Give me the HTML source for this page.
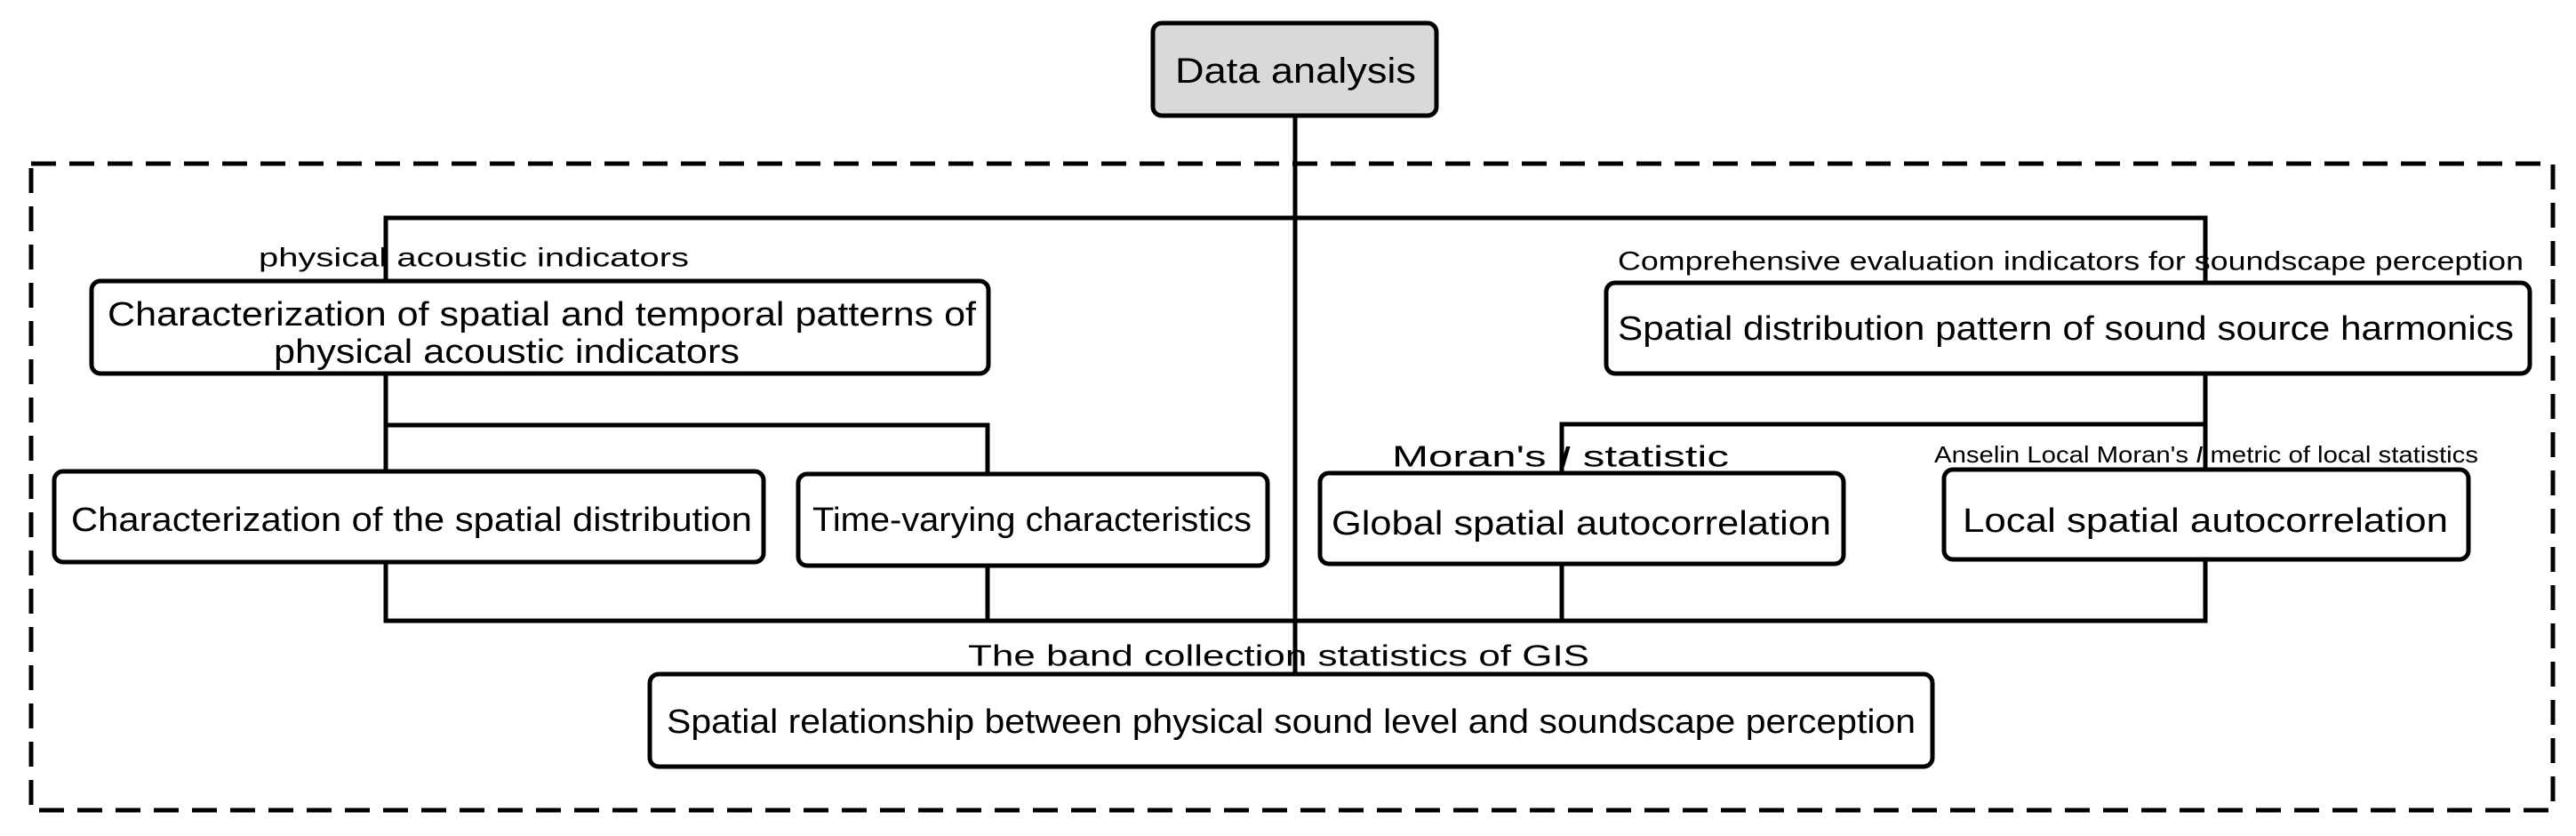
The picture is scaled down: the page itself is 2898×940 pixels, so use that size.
<!DOCTYPE html>
<html><head><meta charset="utf-8"><style>html,body{margin:0;padding:0;background:#fff}svg{display:block}</style></head>
<body>
<svg width="2898" height="940" viewBox="0 0 2898 940" xmlns="http://www.w3.org/2000/svg" font-family="'Liberation Sans', sans-serif" fill="#000">
<rect x="35" y="184" width="2837" height="727" fill="none" stroke="#000" stroke-width="5" stroke-dasharray="28,15"/>
<g stroke="#000" stroke-width="5" fill="none">
<path d="M1457 130 V758"/>
<path d="M434 316 V245 H2481 V318"/>
<path d="M434 420 V531 M434 478 H1111 V533"/>
<path d="M2481 420 V528 M2481 477 H1757 V532"/>
<path d="M434 632 V698 H2481 V629 M1111 636 V698 M1757 634 V698"/>
</g>
<g stroke="#000" stroke-width="5" fill="#fff">
<rect x="1297" y="26" width="319" height="104" rx="10" fill="#d9d9d9"/>
<rect x="103" y="316" width="1009" height="104" rx="10"/>
<rect x="1807" y="318" width="1039" height="102" rx="10"/>
<rect x="61" y="530" width="798" height="102" rx="10"/>
<rect x="898" y="533" width="528" height="103" rx="10"/>
<rect x="1485" y="532" width="589" height="102" rx="10"/>
<rect x="2187" y="528" width="590" height="101" rx="10"/>
<rect x="731" y="758" width="1443" height="104" rx="10"/>
</g>
<g dominant-baseline="central" lengthAdjust="spacingAndGlyphs">
<text x="1322" y="80" font-size="40" textLength="271" lengthAdjust="spacingAndGlyphs">Data analysis</text>
<text x="121" y="354" font-size="38" textLength="977" lengthAdjust="spacingAndGlyphs">Characterization of spatial and temporal patterns of</text>
<text x="308" y="396" font-size="38" textLength="524" lengthAdjust="spacingAndGlyphs">physical acoustic indicators</text>
<text x="80" y="585" font-size="38" textLength="766" lengthAdjust="spacingAndGlyphs">Characterization of the spatial distribution</text>
<text x="914" y="585" font-size="38" textLength="494" lengthAdjust="spacingAndGlyphs">Time-varying characteristics</text>
<text x="1820" y="370" font-size="38" textLength="1008" lengthAdjust="spacingAndGlyphs">Spatial distribution pattern of sound source harmonics</text>
<text x="1498" y="589" font-size="38" textLength="562" lengthAdjust="spacingAndGlyphs">Global spatial autocorrelation</text>
<text x="2208" y="586" font-size="38" textLength="546" lengthAdjust="spacingAndGlyphs">Local spatial autocorrelation</text>
<text x="750" y="812" font-size="38" textLength="1405" lengthAdjust="spacingAndGlyphs">Spatial relationship between physical sound level and soundscape perception</text>
<text x="291" y="290" font-size="30" textLength="484" lengthAdjust="spacingAndGlyphs">physical acoustic indicators</text>
<text x="1820" y="294" font-size="30" textLength="1019" lengthAdjust="spacingAndGlyphs">Comprehensive evaluation indicators for soundscape perception</text>
<text x="1566" y="513" font-size="33" textLength="379" lengthAdjust="spacingAndGlyphs">Moran's <tspan font-style="italic">I</tspan> statistic</text>
<text x="2176" y="511" font-size="26" textLength="612" lengthAdjust="spacingAndGlyphs">Anselin Local Moran's <tspan font-style="italic">I</tspan> metric of local statistics</text>
<text x="1089" y="737" font-size="33" textLength="699" lengthAdjust="spacingAndGlyphs">The band collection statistics of GIS</text>
</g>
</svg>
</body></html>
